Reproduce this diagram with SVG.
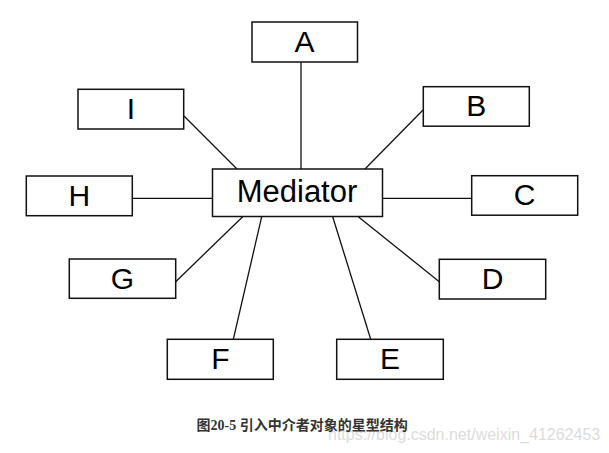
<svg xmlns="http://www.w3.org/2000/svg" width="609" height="453" viewBox="0 0 609 453">
<style>
.box{fill:#fff;stroke:#111;stroke-width:1.5}
.lbl{font-family:"Liberation Sans",Arial,sans-serif;font-size:30px;fill:#000;text-anchor:middle}
.conn line{stroke:#111;stroke-width:1.3}
.cap{font-family:"Liberation Serif","Noto Sans CJK SC",serif;font-size:14px;font-weight:bold;fill:#333}
.wm{font-family:"Liberation Sans",Arial,sans-serif;font-size:16px;fill:#dcdcdc}
</style>
<rect width="609" height="453" fill="#fff"/>
<g id="connectors" class="conn">
<line x1="301" y1="62" x2="301" y2="169"/>
<line x1="184" y1="116" x2="237" y2="169"/>
<line x1="423" y1="110" x2="365" y2="169"/>
<line x1="132" y1="198.3" x2="212.5" y2="198.3"/>
<line x1="382.5" y1="198.3" x2="472" y2="198.3"/>
<line x1="175.7" y1="281.7" x2="242.7" y2="216.7"/>
<line x1="439.3" y1="281.7" x2="358.3" y2="216.7"/>
<line x1="233.3" y1="339.3" x2="261.7" y2="216.7"/>
<line x1="370.7" y1="339.3" x2="332.7" y2="216.7"/>
</g>
<g id="mediator"><rect class="box" x="212.5" y="169" width="170" height="47.5"/><text class="lbl" x="297" y="202" style="font-size:31px">Mediator</text></g>
<g id="A"><rect class="box" x="252" y="22" width="105.5" height="40"/><text class="lbl" x="304.5" y="52">A</text></g>
<g id="B"><rect class="box" x="423.3" y="86.7" width="106" height="39.5"/><text class="lbl" x="476.3" y="116">B</text></g>
<g id="C"><rect class="box" x="471.7" y="175.7" width="106" height="39.5"/><text class="lbl" x="524.7" y="205">C</text></g>
<g id="D"><rect class="box" x="439.3" y="259.3" width="106.4" height="39.7"/><text class="lbl" x="492.5" y="289">D</text></g>
<g id="E"><rect class="box" x="336.7" y="339.3" width="106.6" height="40"/><text class="lbl" x="390" y="369">E</text></g>
<g id="F"><rect class="box" x="167.3" y="339.3" width="106" height="40"/><text class="lbl" x="220.3" y="369">F</text></g>
<g id="G"><rect class="box" x="69.3" y="259" width="106.4" height="39.3"/><text class="lbl" x="122.5" y="288.5">G</text></g>
<g id="H"><rect class="box" x="26.3" y="176" width="106" height="39.7"/><text class="lbl" x="79.3" y="205.5">H</text></g>
<g id="I"><rect class="box" x="78" y="89.3" width="105.7" height="39.7"/><text class="lbl" x="130.8" y="118.5">I</text></g>
<text class="wm" x="328" y="439.5">https://blog.csdn.net/weixin_41262453</text>
<text class="cap" x="196.5" y="429.5">图20-5 引入中介者对象的星型结构</text>
</svg>
